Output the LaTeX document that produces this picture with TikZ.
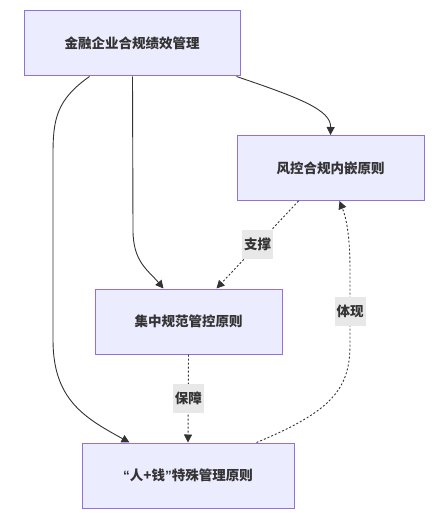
\documentclass[tikz,border=0pt]{standalone}
\usepackage{fontspec}
\setmainfont{Noto Sans CJK SC}
\newfontfamily\latq{Liberation Sans}
\usetikzlibrary{arrows.meta,calc}
\definecolor{boxfill}{HTML}{ECECFF}
\definecolor{boxline}{HTML}{9370DB}
\definecolor{ink}{HTML}{333333}
\definecolor{lblbg}{HTML}{E8E8E8}
\tikzset{
  box/.style={draw=boxline, fill=boxfill, line width=1pt, minimum height=65pt, inner sep=0pt, text=ink, font=\fontsize{13.5}{16}\selectfont\bfseries},
  edge/.style={draw=ink, line width=0.9pt, -{Triangle[length=8pt,width=8pt]}},
  dotedge/.style={edge, dash pattern=on 2pt off 2pt},
  lbl/.style={fill=lblbg, text=ink, inner sep=2pt, minimum height=29pt, font=\fontsize{13.5}{16}\selectfont\bfseries}
}
\begin{document}
\begin{tikzpicture}[x=1pt,y=-1pt]
\useasboundingbox (0,0) rectangle (439,524);
\node[box, minimum width=216pt] (A) at (132,43.5) {金融企业合规绩效管理};
\node[box, minimum width=187pt] (B) at (330.5,168) {风控合规内嵌原则};
\node[box, minimum width=187pt] (C) at (188.5,321.5) {集中规范管控原则};
\node[box, minimum width=212pt] (D) at (188,475.5) {{\latq “}人+钱{\latq ”}特殊管理原则};
% A -> B
\draw[edge] ($(A.south west)+(213,0)$) .. controls (300,98) and (331,110) .. ($(B.north west)+(94,0)$);
% A -> C
\draw[edge] ($(A.south west)+(109,0)$) -- (133,230) .. controls (133,262) and (148,270) .. ($(C.north west)+(69,0)$);
% A -> D
\draw[edge] ($(A.south west)+(66,0)$) .. controls (56,100) and (53,120) .. (53,155) -- (53,340) .. controls (53,400) and (85,418) .. ($(D.north west)+(48,0)$);
% B -> C
\draw[dotedge] ($(B.south west)+(62,0)$) -- node[lbl] (l1) {支撑} ($(C.north west)+(122,0)$);
% C -> D
\draw[dotedge] (C.south) -- node[lbl] (l2) {保障} (D.north);
% D -> B
\draw[dotedge] ($(D.north west)+(175,0)$) .. controls (330,412) and (350,390) .. (350,345) -- node[lbl, pos=0.45] (l3) {体现} (350,270) .. controls (350,230) and (345,215) .. ($(B.south west)+(103,0)$);
\end{tikzpicture}
\end{document}
